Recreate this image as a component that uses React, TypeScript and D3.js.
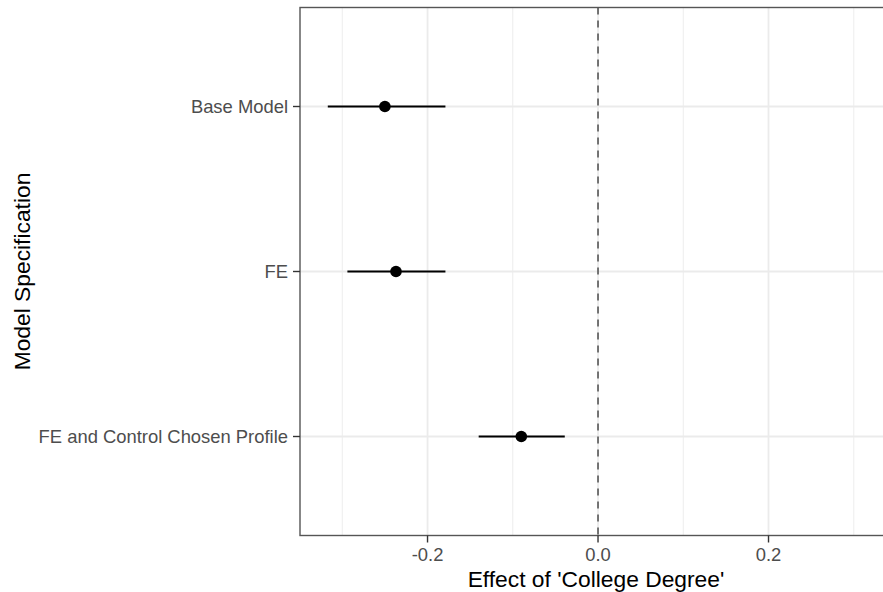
import React from "react";
import * as d3 from "d3";

const models = ["Base Model", "FE", "FE and Control Chosen Profile"];
const estimates = [-0.25, -0.237, -0.09];
const lowers = [-0.317, -0.294, -0.14];
const uppers = [-0.179, -0.179, -0.039];
const majorTicks = [-0.2, 0.0, 0.2];
const minorTicks = [-0.3, -0.1, 0.1, 0.3];

const W = 883;
const H = 592;
const left = 300;
const right = 883;
const top = 7.5;
const bottom = 535.5;

export default function App() {
  const x = d3.scaleLinear().domain([-0.3496, 0.3343]).range([left, right]);
  const y = d3
    .scalePoint<string>()
    .domain(models)
    .range([top, bottom])
    .padding(0.6);
  const font = "Arial, 'Liberation Sans', Helvetica, sans-serif";
  return (
    <svg
      width={W}
      height={H}
      style={{ position: "absolute", left: 0, top: 0, background: "#fff" }}
      fontFamily={font}
    >
      <rect x={left} y={top} width={right + 10 - left} height={bottom - top} fill="#fff" />
      {minorTicks.map((t) => (
        <line key={"mi" + t} x1={x(t)} x2={x(t)} y1={top} y2={bottom} stroke="#ebebeb" strokeWidth={0.9} />
      ))}
      {majorTicks.map((t) => (
        <line key={"ma" + t} x1={x(t)} x2={x(t)} y1={top} y2={bottom} stroke="#ebebeb" strokeWidth={1.8} />
      ))}
      {models.map((m) => (
        <line key={"h" + m} x1={left} x2={right + 10} y1={y(m)} y2={y(m)} stroke="#ebebeb" strokeWidth={1.8} />
      ))}
      <line
        x1={x(0)}
        x2={x(0)}
        y1={top}
        y2={bottom}
        stroke="#6e6e6e"
        strokeWidth={1.9}
        strokeDasharray="7,6"
      />
      {models.map((m, i) => (
        <g key={"p" + m}>
          <line x1={x(lowers[i])} x2={x(uppers[i])} y1={y(m)} y2={y(m)} stroke="#000" strokeWidth={2.2} />
          <circle cx={x(estimates[i])} cy={y(m)} r={5.8} fill="#000" />
        </g>
      ))}
      <rect
        x={left}
        y={top}
        width={right + 10 - left}
        height={bottom - top}
        fill="none"
        stroke="#555"
        strokeWidth={1.4}
      />
      {majorTicks.map((t) => (
        <g key={"xt" + t}>
          <line x1={x(t)} x2={x(t)} y1={bottom} y2={bottom + 7} stroke="#333" strokeWidth={1.4} />
          <text x={x(t)} y={561} textAnchor="middle" fontSize={18.4} fill="#4d4d4d">
            {d3.format(".1f")(t).replace("−", "-")}
          </text>
        </g>
      ))}
      {models.map((m) => (
        <g key={"yt" + m}>
          <line x1={left - 7} x2={left} y1={y(m)} y2={y(m)} stroke="#333" strokeWidth={1.4} />
          <text x={left - 12} y={y(m)! + 6.5} textAnchor="end" fontSize={18.4} fill="#4d4d4d">
            {m}
          </text>
        </g>
      ))}
      <text x={596} y={587} textAnchor="middle" fontSize={22.8} fill="#000">
        Effect of 'College Degree'
      </text>
      <text
        transform={`translate(30, ${(top + bottom) / 2}) rotate(-90)`}
        textAnchor="middle"
        fontSize={22.8}
        fill="#000"
      >
        Model Specification
      </text>
    </svg>
  );
}
